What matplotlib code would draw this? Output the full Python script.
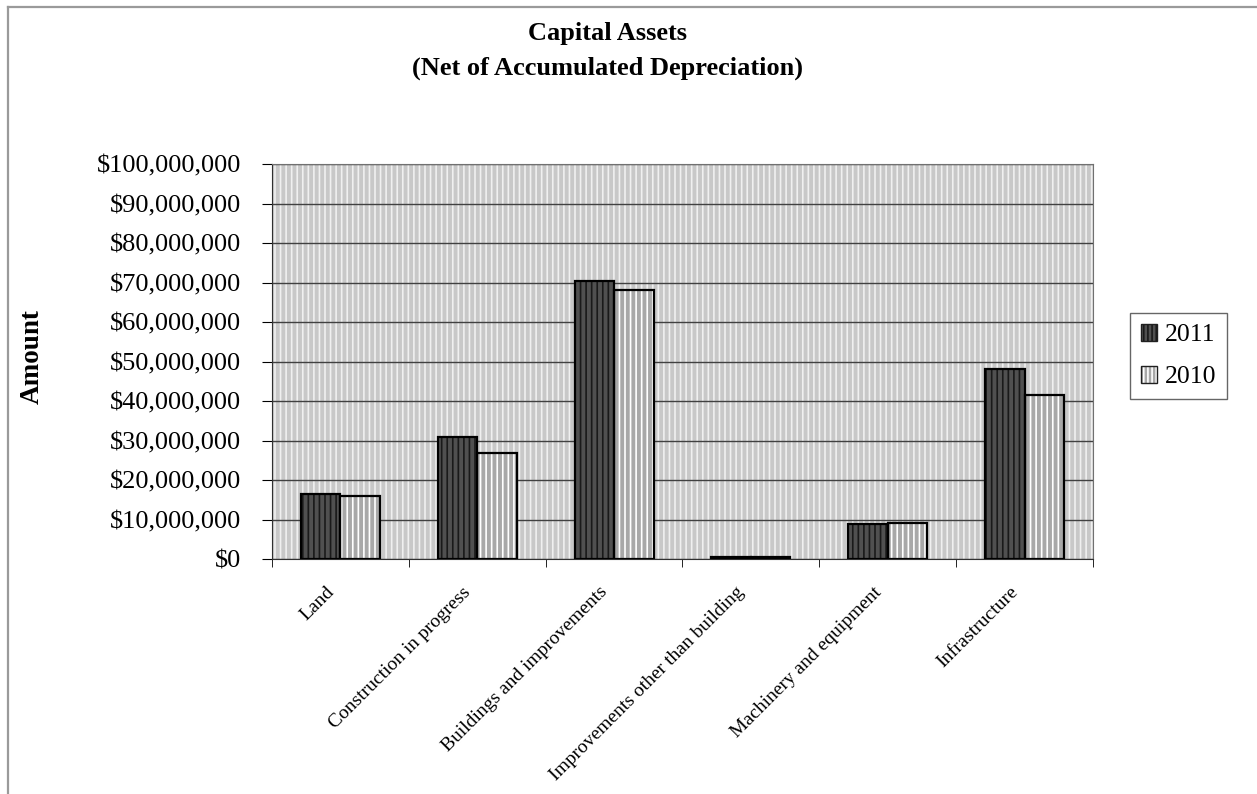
import numpy as np
import matplotlib.pyplot as plt
from matplotlib.patches import Rectangle
from matplotlib.lines import Line2D
from matplotlib.legend_handler import HandlerTuple
from matplotlib.transforms import ScaledTranslation
from matplotlib.ticker import FuncFormatter, FixedLocator

categories = ["Land", "Construction in progress", "Buildings and improvements",
              "Improvements other than building", "Machinery and equipment", "Infrastructure"]
values_2011 = [16.5e6, 31.0e6, 70.4e6, 0.4e6, 8.8e6, 48.1e6]
values_2010 = [16.0e6, 26.8e6, 68.1e6, 0.4e6, 9.0e6, 41.5e6]

plt.rcParams['font.family'] = ['Liberation Serif', 'DejaVu Serif']
plt.rcParams['hatch.linewidth'] = 1.2

W, H = 1257, 794
fig = plt.figure(figsize=(W / 100, H / 100), dpi=100)
# plot area in pixels: x 272..1093, y 164..559
ax = fig.add_axes([272 / W, 1 - 559 / H, (1093 - 272) / W, (559 - 164) / H])

# plot area: grey with fine vertical stripes
ax.set_facecolor('#c8c8c8')
ax.add_patch(Rectangle((0, 0), 1, 1, transform=ax.transAxes, facecolor='none',
                       edgecolor='#f0f0f0', hatch='|||', linewidth=0, zorder=0))

x = np.arange(len(categories))
w = 0.289

def draw_bars(xpos, vals, face, hatch_col):
    ax.bar(xpos, vals, w, color=face, edgecolor=hatch_col, hatch='|||', linewidth=0, zorder=3)
    ax.bar(xpos, vals, w, fill=False, edgecolor='black', linewidth=1.6, zorder=4)
    # legend swatch: hatched fill with a dark outline on top
    fill = Rectangle((0, 0), 1, 1, facecolor=face, edgecolor=hatch_col, hatch='||||', linewidth=0)
    outline = Rectangle((0, 0), 1, 1, fill=False, edgecolor='#202020', linewidth=1.0)
    return (fill, outline)

h1 = draw_bars(x - w / 2, values_2011, '#505050', '#1a1a1a')
h2 = draw_bars(x + w / 2, values_2010, '#a8a8a8', '#ffffff')

ax.set_xlim(-0.5, len(categories) - 0.5)
ax.set_ylim(0, 100e6)
ax.yaxis.set_major_locator(FixedLocator(np.arange(0, 100e6 + 1, 10e6)))
ax.yaxis.set_major_formatter(FuncFormatter(lambda v, p: f"${v:,.0f}"))
ax.grid(axis='y', color='#404040', linewidth=1.0, zorder=1)
ax.set_axisbelow(True)
ax.tick_params(axis='y', direction='out', length=7, labelsize=19, pad=15)

ax.set_xticks(x)
ax.set_xticklabels(categories, rotation=45, ha='right', va='center',
                   rotation_mode='anchor', fontsize=14)
ax.tick_params(axis='x', which='major', length=0, pad=22)
shift = ScaledTranslation(-9 / 100, 0, fig.dpi_scale_trans)
for lbl in ax.get_xticklabels():
    lbl.set_transform(lbl.get_transform() + shift)
ax.set_xticks(np.arange(-0.5, len(categories)), minor=True)
ax.tick_params(axis='x', which='minor', direction='out', length=6)

for s in ['top', 'right']:
    ax.spines[s].set_color('#707070')
for s in ['left', 'bottom']:
    ax.spines[s].set_color('#303030')

fig.text(607 / W, 1 - 51 / H, "Capital Assets\n(Net of Accumulated Depreciation)", ha='center',
         va='center', fontsize=19, fontweight='bold', linespacing=1.6)
fig.text(32 / W, 1 - 357 / H, "Amount", rotation=90, ha='center', va='center',
         fontsize=19.5, fontweight='bold')

leg = fig.legend(handles=[h1, h2], labels=['2011', '2010'],
                 handler_map={tuple: HandlerTuple(ndivide=1)},
                 loc='center', bbox_to_anchor=(1178.5 / W, 1 - 356 / H),
                 fontsize=18.5, frameon=True, fancybox=False, edgecolor='#404040',
                 handlelength=0.65, handleheight=0.65, handletextpad=0.3,
                 borderpad=0.4, labelspacing=0.75, borderaxespad=0)
leg.get_frame().set_linewidth(1.0)

# chart border, drawn on the left and top edges only
fig.add_artist(Line2D([8 / W, 8 / W], [0, 1 - 6.5 / H], transform=fig.transFigure,
                      color='#9a9a9a', linewidth=1.6))
fig.add_artist(Line2D([8 / W, 1], [1 - 6.5 / H, 1 - 6.5 / H], transform=fig.transFigure,
                      color='#9a9a9a', linewidth=1.6))

fig.savefig('out.png', dpi=100)
